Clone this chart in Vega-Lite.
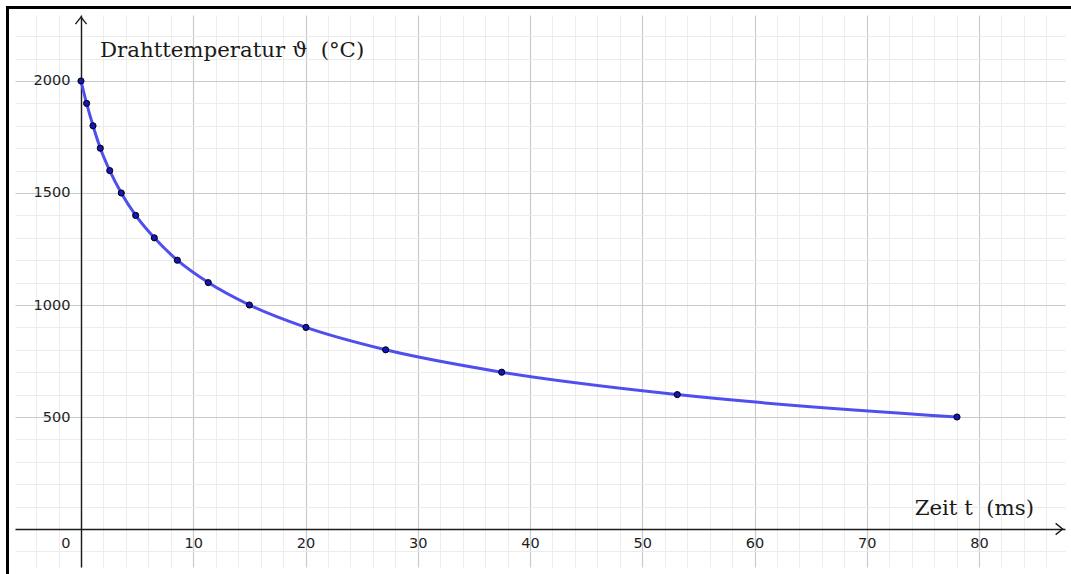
{
  "$schema": "https://vega.github.io/schema/vega-lite/v6.json",
  "autosize": {"type": "none"},
  "width": 1050,
  "height": 552,
  "padding": {"left": 15, "top": 15, "right": 6, "bottom": 7},
  "background": "white",
  "config": {"view": {"stroke": null}},
  "datasets": {
    "curve": [
      {"t": 0, "theta": 2000},
      {"t": 0.5, "theta": 1900},
      {"t": 1.07, "theta": 1800},
      {"t": 1.72, "theta": 1700},
      {"t": 2.56, "theta": 1600},
      {"t": 3.59, "theta": 1500},
      {"t": 4.87, "theta": 1400},
      {"t": 6.53, "theta": 1300},
      {"t": 8.58, "theta": 1200},
      {"t": 11.34, "theta": 1100},
      {"t": 15.0, "theta": 1000},
      {"t": 20.04, "theta": 900},
      {"t": 27.14, "theta": 800},
      {"t": 37.48, "theta": 700},
      {"t": 53.12, "theta": 600},
      {"t": 78.04, "theta": 500}
    ],
    "one": [{}]
  },
  "resolve": {"axis": {"x": "independent", "y": "independent"}},
  "layer": [
    {
      "data": {"name": "curve"},
      "mark": {"type": "point", "opacity": 0},
      "encoding": {
        "x": {"field": "t", "type": "quantitative",
          "scale": {"domain": [-5.88, 87.66], "nice": false, "zero": false},
          "axis": {"orient": "bottom", "values": [-4,-2,2,4,6,8,12,14,16,18,22,24,26,28,32,34,36,38,42,44,46,48,52,54,56,58,62,64,66,68,72,74,76,78,82,84,86],
            "grid": true, "gridColor": "#ececec", "gridWidth": 1, "labels": false, "ticks": false, "domain": false, "title": null}},
        "y": {"field": "theta", "type": "quantitative",
          "scale": {"domain": [-169.6, 2294.6], "nice": false, "zero": false},
          "axis": {"orient": "left", "values": [-100,100,200,300,400,600,700,800,900,1100,1200,1300,1400,1600,1700,1800,1900,2100,2200],
            "grid": true, "gridColor": "#ececec", "gridWidth": 1, "labels": false, "ticks": false, "domain": false, "title": null}}
      }
    },
    {
      "data": {"name": "curve"},
      "mark": {"type": "line", "interpolate": "monotone", "color": "#4f4ff0", "strokeWidth": 3},
      "encoding": {
        "x": {"field": "t", "type": "quantitative",
          "scale": {"domain": [-5.88, 87.66], "nice": false, "zero": false},
          "axis": {"orient": "bottom", "offset": -38, "values": [0,10,20,30,40,50,60,70,80], "format": "d",
            "grid": true, "gridColor": "#cbcbcb", "gridWidth": 1.2,
            "domain": true, "domainColor": "#1a1a1a", "domainWidth": 1.4,
            "ticks": false, "labelPadding": 7, "labelFont": "DejaVu Sans", "labelFontSize": 14.5, "labelColor": "#1e1e1e",
            "labelOverlap": false, "labelFlush": false,
            "labelAlign": {"condition": {"test": "datum.value === 0", "value": "right"}, "value": "center"},
            "labelOffset": {"condition": {"test": "datum.value === 0", "value": -11}, "value": 0},
            "title": null}},
        "y": {"field": "theta", "type": "quantitative",
          "scale": {"domain": [-169.6, 2294.6], "nice": false, "zero": false},
          "axis": {"orient": "left", "offset": -66, "values": [500,1000,1500,2000], "format": "d",
            "grid": true, "gridColor": "#cbcbcb", "gridWidth": 1.2,
            "domain": true, "domainColor": "#1a1a1a", "domainWidth": 1.4,
            "ticks": false, "labelPadding": 11, "labelFont": "DejaVu Sans", "labelFontSize": 14.5, "labelColor": "#1e1e1e",
            "labelOverlap": false, "labelFlush": false,
            "title": null}}
      }
    },
    {
      "data": {"name": "curve"},
      "mark": {"type": "point", "filled": true, "fill": "#1414b8", "stroke": "#000000", "strokeWidth": 1, "size": 38, "opacity": 1},
      "encoding": {
        "x": {"field": "t", "type": "quantitative", "scale": {"domain": [-5.88, 87.66], "nice": false, "zero": false}, "axis": null},
        "y": {"field": "theta", "type": "quantitative", "scale": {"domain": [-169.6, 2294.6], "nice": false, "zero": false}, "axis": null}
      }
    },
    {
      "data": {"name": "one"},
      "mark": {"type": "text", "text": "Drahttemperatur ϑ\u00a0\u00a0(°C)", "font": "DejaVu Serif", "fontSize": 21.3, "align": "left", "baseline": "alphabetic", "color": "#1a1a1a"},
      "encoding": {
        "x": {"datum": 1.69, "type": "quantitative", "scale": {"domain": [-5.88, 87.66], "nice": false, "zero": false}, "axis": null},
        "y": {"datum": 2105, "type": "quantitative", "scale": {"domain": [-169.6, 2294.6], "nice": false, "zero": false}, "axis": null}
      }
    },
    {
      "data": {"name": "one"},
      "mark": {"type": "text", "text": "Zeit t\u00a0\u00a0(ms)", "font": "DejaVu Serif", "fontSize": 21.3, "align": "right", "baseline": "alphabetic", "color": "#1a1a1a"},
      "encoding": {
        "x": {"datum": 84.9, "type": "quantitative", "scale": {"domain": [-5.88, 87.66], "nice": false, "zero": false}, "axis": null},
        "y": {"datum": 62.5, "type": "quantitative", "scale": {"domain": [-169.6, 2294.6], "nice": false, "zero": false}, "axis": null}
      }
    },
    {
      "data": {"name": "one"},
      "mark": {"type": "point", "shape": "M-1,-0.8L0,0L-1,0.8", "size": 196, "filled": false, "stroke": "#1a1a1a", "strokeWidth": 1.4, "opacity": 1},
      "encoding": {
        "x": {"datum": 87.45, "type": "quantitative", "scale": {"domain": [-5.88, 87.66], "nice": false, "zero": false}, "axis": null},
        "y": {"datum": 0, "type": "quantitative", "scale": {"domain": [-169.6, 2294.6], "nice": false, "zero": false}, "axis": null}
      }
    },
    {
      "data": {"name": "one"},
      "mark": {"type": "point", "shape": "M-0.8,1L0,0L0.8,1", "size": 196, "filled": false, "stroke": "#1a1a1a", "strokeWidth": 1.4, "opacity": 1},
      "encoding": {
        "x": {"datum": 0, "type": "quantitative", "scale": {"domain": [-5.88, 87.66], "nice": false, "zero": false}, "axis": null},
        "y": {"datum": 2285, "type": "quantitative", "scale": {"domain": [-169.6, 2294.6], "nice": false, "zero": false}, "axis": null}
      }
    },
    {
      "data": {"name": "one"},
      "mark": {"type": "rect", "fill": null, "fillOpacity": 0, "stroke": "#000000", "strokeWidth": 3, "clip": false},
      "encoding": {
        "x": {"datum": -6.548, "type": "quantitative", "scale": {"domain": [-5.88, 87.66], "nice": false, "zero": false}, "axis": null},
        "x2": {"datum": 100},
        "y": {"datum": 2328, "type": "quantitative", "scale": {"domain": [-169.6, 2294.6], "nice": false, "zero": false}, "axis": null},
        "y2": {"datum": -400}
      }
    }
  ]
}
